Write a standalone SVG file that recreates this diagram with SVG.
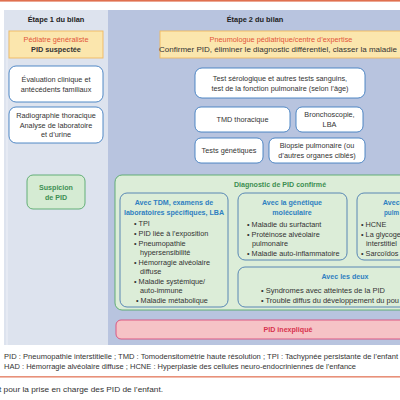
<svg xmlns="http://www.w3.org/2000/svg" width="400" height="400" viewBox="0 0 400 400">
<style>
text{font-family:"Liberation Sans","DejaVu Sans",sans-serif;font-size:7.3px;fill:#333}
.c{text-anchor:middle}
.b{font-weight:bold}
.hd{font-weight:bold;font-size:7.4px;fill:#222}
.or{fill:#e2553a}
.gr{fill:#3d8f52;font-weight:bold;font-size:7.1px}
.bl{fill:#2f7fc1;font-weight:bold;font-size:7.1px}
.pk{fill:#d8334f;font-weight:bold;font-size:7.1px}
.wb{fill:#fff;stroke:#3f7dbf;stroke-width:0.9}
.sb{fill:#dcedd8;stroke:#4a7cb0;stroke-width:0.9}
.ft{font-size:6.8px}
</style>
<rect width="400" height="400" fill="#fff"/>
<rect x="0" y="0" width="400" height="1.6" fill="#e0704f"/>
<g id="stage1">
<rect x="4" y="10" width="104" height="335" fill="#dde3ee"/>
<rect x="6" y="30" width="2" height="315" fill="#e6eaf3"/>
<text class="hd c" x="56" y="21.5">Étape 1 du bilan</text>
</g>
<g id="stage2">
<rect x="108" y="10" width="292" height="335" fill="#b8c4df"/>
<text class="hd c" x="255" y="21.5">Étape 2 du bilan</text>
</g>
<g id="pediatre">
<rect x="9" y="31" width="94" height="27" fill="#fbe6ad" stroke="#efb860" stroke-width="0.9"/>
<text class="c or" x="56" y="42">Pédiatre généraliste</text>
<text class="c b" x="56" y="52">PID suspectée</text>
</g>
<g id="evaluation">
<rect class="wb" x="9" y="66" width="94" height="36" rx="7"/>
<text class="c" x="56" y="82">Évaluation clinique et</text>
<text class="c" x="56" y="92">antécédents familiaux</text>
</g>
<g id="radiographie">
<rect class="wb" x="9" y="107" width="94" height="36" rx="7"/>
<text class="c" x="56" y="118">Radiographie thoracique</text>
<text class="c" x="56" y="127.5">Analyse de laboratoire</text>
<text class="c" x="56" y="137">et d’urine</text>
</g>
<g id="suspicion">
<rect x="27" y="175" width="58" height="34" rx="6" fill="#d5ebd3" stroke="#56a86b" stroke-width="0.9"/>
<text class="c gr" x="56" y="190">Suspicion</text>
<text class="c gr" x="56" y="200">de PID</text>
</g>
<g id="pneumologue">
<rect x="160" y="31" width="242" height="27" fill="#fbe6ad" stroke="#efb860" stroke-width="0.9"/>
<text class="c or" x="281" y="42">Pneumologue pédiatrique/centre d’expertise</text>
<text class="c" x="278" y="52" textLength="238" lengthAdjust="spacingAndGlyphs">Confirmer PID, éliminer le diagnostic différentiel, classer la maladie</text>
</g>
<g id="serologie">
<rect class="wb" x="195" y="68" width="170" height="30" rx="7"/>
<text class="c" x="280" y="81">Test sérologique et autres tests sanguins,</text>
<text class="c" x="280" y="91">test de la fonction pulmonaire (selon l’âge)</text>
</g>
<g id="tmd">
<rect class="wb" x="195" y="107" width="95" height="25" rx="6"/>
<text class="c" x="242.5" y="122">TMD thoracique</text>
</g>
<g id="broncho">
<rect class="wb" x="296" y="107" width="67" height="25" rx="6"/>
<text class="c" x="329.5" y="117">Bronchoscopie,</text>
<text class="c" x="329.5" y="127">LBA</text>
</g>
<g id="genetique">
<rect class="wb" x="195" y="138" width="68" height="25" rx="6"/>
<text class="c" x="229" y="153">Tests génétiques</text>
</g>
<g id="biopsie">
<rect class="wb" x="269" y="138" width="96" height="25" rx="6"/>
<text class="c" x="317" y="148">Biopsie pulmonaire (ou</text>
<text class="c" x="317" y="158">d’autres organes ciblés)</text>
</g>
<g id="confirme">
<rect x="115" y="175" width="295" height="135" rx="7" fill="#dcedd8" stroke="#56a86b" stroke-width="0.9"/>
<text class="c gr" x="280" y="187">Diagnostic de PID confirmé</text>
</g>
<g id="tdm">
<rect class="sb" x="120" y="193" width="108" height="114" rx="7"/>
<text class="c bl" x="174" y="205">Avec TDM, examens de</text>
<text class="c bl" x="174" y="215">laboratoires spécifiques, LBA</text>
<text x="134" y="226">• TPI</text>
<text x="134" y="236">• PID liée à l’exposition</text>
<text x="134" y="246">• Pneumopathie</text>
<text x="140" y="255">hypersensibilité</text>
<text x="134" y="265">• Hémorragie alvéolaire</text>
<text x="140" y="274">diffuse</text>
<text x="134" y="284">• Maladie systémique/</text>
<text x="140" y="293">auto-immune</text>
<text x="136" y="303">• Maladie métabolique</text>
</g>
<g id="moleculaire">
<rect class="sb" x="238" y="193" width="109" height="67" rx="7"/>
<text class="c bl" x="292" y="205">Avec la génétique</text>
<text class="c bl" x="292" y="215">moléculaire</text>
<text x="247" y="227">• Maladie du surfactant</text>
<text x="247" y="237">• Protéinose alvéolaire</text>
<text x="252" y="246">pulmonaire</text>
<text x="247" y="256">• Maladie auto-inflammatoire</text>
</g>
<g id="biopsie-pulm">
<rect class="sb" x="357" y="193" width="60" height="67" rx="7"/>
<text class="bl" x="383" y="205">Avec</text>
<text class="bl" x="384" y="215" textLength="15" lengthAdjust="spacingAndGlyphs">pulm</text>
<text x="361" y="227">• HCNE</text>
<text x="361" y="237">• La glycoge</text>
<text x="366" y="246">interstitiel</text>
<text x="361" y="256">• Sarcoïdos</text>
</g>
<g id="deux">
<rect class="sb" x="238" y="267" width="180" height="40" rx="7"/>
<text class="c bl" x="345" y="279">Avec les deux</text>
<text x="261" y="293" textLength="124" lengthAdjust="spacingAndGlyphs">• Syndromes avec atteintes de la PID</text>
<text x="261" y="303" textLength="138" lengthAdjust="spacingAndGlyphs">• Trouble diffus du développement du pou</text>
</g>
<g id="inexplique">
<rect x="116" y="320" width="300" height="19" rx="5" fill="#f6c3c6" stroke="#d94c7a" stroke-width="0.9"/>
<text class="c pk" x="288" y="332">PID inexpliqué</text>
</g>
<g id="connectors"></g>
<g id="legend">
<text class="ft" x="4" y="359" textLength="394" lengthAdjust="spacingAndGlyphs">PID : Pneumopathie interstitielle ; TMD : Tomodensitométrie haute résolution ; TPI : Tachypnée persistante de l’enfant</text>
<text class="ft" x="4" y="369" textLength="352" lengthAdjust="spacingAndGlyphs">HAD : Hémorragie alvéolaire diffuse ; HCNE : Hyperplasie des cellules neuro-endocriniennes de l’enfance</text>
<rect x="0" y="376" width="400" height="1.6" fill="#e8917a"/>
<text class="ft" x="-1" y="392" textLength="164" lengthAdjust="spacingAndGlyphs">t pour la prise en charge des PID de l’enfant.</text>
</g>
</svg>
